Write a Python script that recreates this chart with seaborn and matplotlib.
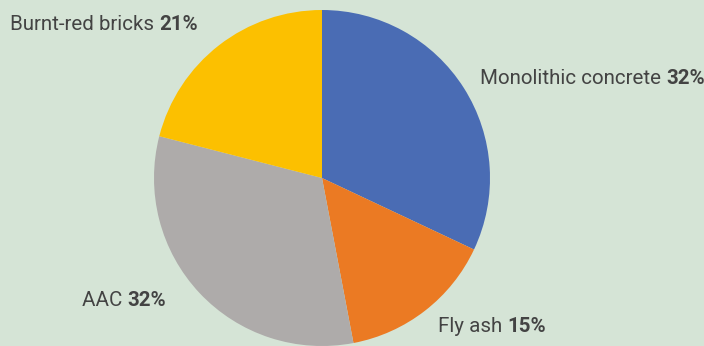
import matplotlib
matplotlib.use("Agg")
import matplotlib.pyplot as plt
import seaborn as sns

sns.set_theme(style="white")
plt.rcParams["font.family"] = ["Roboto", "DejaVu Sans"]

# Share of walling materials
categories = ["Monolithic concrete", "Fly ash", "AAC", "Burnt-red bricks"]
shares = [32, 15, 32, 21]
colors = ["#4a6cb4", "#eb7a23", "#aeabaa", "#fcc000"]

bg = "#d5e4d6"
text_color = "#434343"

W, H = 704, 346
fig = plt.figure(figsize=(W / 100, H / 100), dpi=100, facecolor=bg)
ax = fig.add_axes([0, 0, 1, 1])
ax.set_facecolor(bg)

ax.pie(shares, colors=colors, startangle=90, counterclock=False,
       center=(322, H - 178), radius=168, frame=True,
       wedgeprops=dict(linewidth=0))
ax.set_xlim(0, W)
ax.set_ylim(0, H)
ax.set_aspect("equal")
ax.axis("off")

# Label anchors (left edge, vertical centre) in pixel coordinates from the top
label_pos = {
    "Monolithic concrete": (480, 76),
    "Fly ash": (438, 325),
    "AAC": (82, 299),
    "Burnt-red bricks": (10, 22),
}

fs = 14.8
for name, val in zip(categories, shares):
    x, y = label_pos[name]
    t = ax.text(x, H - y, name + " ", fontsize=fs, color=text_color,
                ha="left", va="center_baseline")
    ax.annotate(f"{val}%", xy=(1, 0), xycoords=t, fontsize=fs,
                fontweight="bold", color=text_color, ha="left", va="bottom")

fig.savefig("out.png", dpi=100, facecolor=bg)
